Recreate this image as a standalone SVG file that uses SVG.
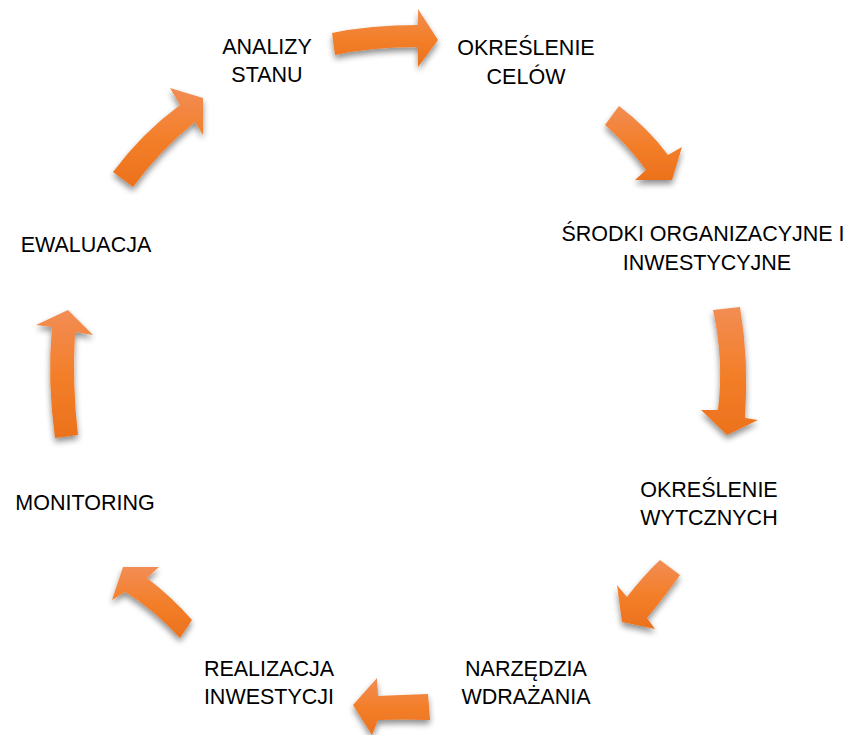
<svg xmlns="http://www.w3.org/2000/svg" width="851" height="735" viewBox="0 0 851 735">
<style>
.lbl{font-family:"Liberation Sans",Arial,sans-serif;font-size:21.5px;fill:#000;text-anchor:middle}
.arr{fill:url(#og);filter:url(#sh)}
</style>
<defs>
<linearGradient id="og" x1="0" y1="0" x2="0" y2="1">
<stop offset="0" stop-color="#F28D55"/>
<stop offset="0.5" stop-color="#F37F2A"/>
<stop offset="1" stop-color="#EC711C"/>
</linearGradient>
<filter id="sh" x="-30%" y="-30%" width="160%" height="160%">
<feGaussianBlur in="SourceAlpha" stdDeviation="3"/>
<feOffset dx="0" dy="4" result="b"/>
<feComponentTransfer><feFuncA type="linear" slope="0.45"/></feComponentTransfer>
<feMerge><feMergeNode/><feMergeNode in="SourceGraphic"/></feMerge>
</filter>
</defs>
<rect width="851" height="735" fill="#fff"/>
<g id="connectors">
<path class="arr" d="M332,33 Q370,25 418,25 L418,9 L438,40 L418,67 L418,47 Q372,47 335,55 Z"/>
<path class="arr" d="M605,125 L619,106 Q648,128 668,155 L682,147 L672,180 L635,180 L646,170 Q628,145 605,125 Z"/>
<path class="arr" d="M713,310 L740,307 Q749,360 745,418 L758,420 L727,435 L701,410 L718,410 Q724,360 713,310 Z"/>
<path class="arr" d="M660,560 L680,575 Q662,600 647,618 L655,629 L622,622 L617,585 L627,597 Q643,576 660,560 Z"/>
<path class="arr" d="M428,694 L430,720 Q400,719 378,720 L372,735 L353,705 L377,678 L378,696 Q400,695 428,694 Z"/>
<path class="arr" d="M192,620 L180,638 Q152,608 125,592 L112,600 L123,567 L159,567 L147,578 Q172,597 192,620 Z"/>
<path class="arr" d="M55,438 Q47,380 52,327 L36,325 L68,310 L93,335 L75,332 Q72,385 78,435 Z"/>
<path class="arr" d="M113,172 Q142,133 180,105 L170,88 L203,98 L203,135 L195,122 Q160,150 133,187 Z"/>
</g>
<g id="n1"><text class="lbl" x="267" y="54">ANALIZY</text><text class="lbl" x="267" y="82">STANU</text></g>
<g id="n2"><text class="lbl" x="526" y="55">OKREŚLENIE</text><text class="lbl" x="526" y="84">CELÓW</text></g>
<g id="n3"><text class="lbl" x="703" y="241">ŚRODKI ORGANIZACYJNE I</text><text class="lbl" x="707" y="270">INWESTYCYJNE</text></g>
<g id="n4"><text class="lbl" x="709" y="497">OKREŚLENIE</text><text class="lbl" x="709" y="525">WYTCZNYCH</text></g>
<g id="n5"><text class="lbl" x="526" y="676">NARZĘDZIA</text><text class="lbl" x="526" y="704">WDRAŻANIA</text></g>
<g id="n6"><text class="lbl" x="269" y="676">REALIZACJA</text><text class="lbl" x="269" y="704">INWESTYCJI</text></g>
<g id="n7"><text class="lbl" x="85" y="510">MONITORING</text></g>
<g id="n8"><text class="lbl" x="86" y="252">EWALUACJA</text></g>
</svg>
